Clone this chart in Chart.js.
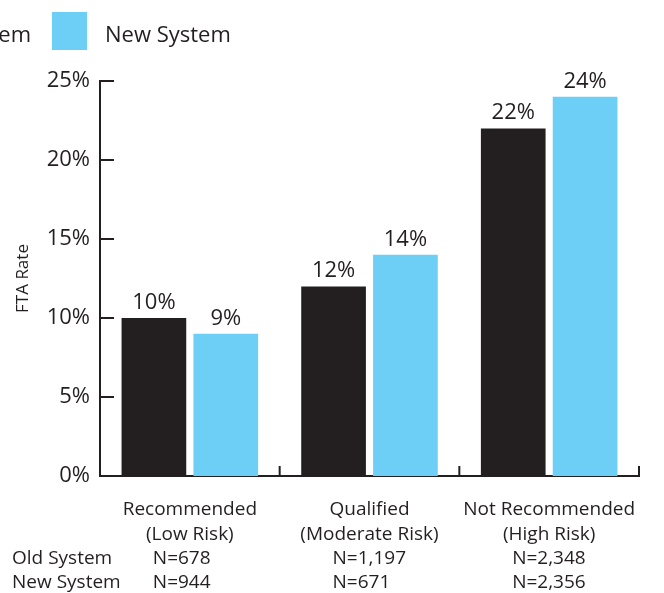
<!DOCTYPE html>
<html>
<head>
<meta charset="utf-8">
<script src="https://cdn.jsdelivr.net/npm/chart.js@4.4.1/dist/chart.umd.min.js"></script>
<style>
  html, body { margin: 0; padding: 0; background: #fff; }
  #wrap { width: 664px; height: 593px; }
</style>
</head>
<body>
<div id="wrap"><canvas id="chart" width="664" height="593"></canvas></div>
<script>
// FTA rate by risk category, old vs new system
const categories = [
    ['Recommended', '(Low Risk)'],
    ['Qualified', '(Moderate Risk)'],
    ['Not Recommended', '(High Risk)']
];
const seriesNames = ['Old System', 'New System'];
const oldRates = [10, 12, 22];
const newRates = [9, 14, 24];
const oldCounts = [678, 1197, 2348];
const newCounts = [944, 671, 2356];
const yTicks = [0, 5, 10, 15, 20, 25];

const INK = '#231f20';
const BLUE = '#6dcff6';
const FONT = "'Open Sans', sans-serif";

function formatCount(n) {
    return 'N=' + n.toLocaleString('en-US');
}

// value labels above each bar
const barLabels = {
    id: 'barLabels',
    afterDatasetsDraw(chart) {
        const ctx = chart.ctx;
        ctx.save();
        ctx.font = `22px ${FONT}`;
        ctx.fillStyle = INK;
        ctx.textAlign = 'center';
        ctx.textBaseline = 'alphabetic';
        chart.data.datasets.forEach((ds, i) => {
            chart.getDatasetMeta(i).data.forEach((bar, j) => {
                ctx.fillText(ds.data[j] + '%', bar.x, bar.y - 9);
            });
        });
        ctx.restore();
    }
};

// inside tick marks, legend, N rows
const decor = {
    id: 'decor',
    afterDraw(chart) {
        const ctx = chart.ctx;
        const x = chart.scales.x;
        const y = chart.scales.y;
        ctx.save();
        ctx.strokeStyle = INK;
        ctx.lineWidth = 2;

        // y ticks point into the plot
        y.ticks.forEach(t => {
            const py = y.getPixelForValue(t.value);
            ctx.beginPath();
            ctx.moveTo(y.right, py);
            ctx.lineTo(y.right + 14, py);
            ctx.stroke();
        });

        // category dividers on the x axis
        const n = categories.length;
        const step = (x.right - x.left) / n;
        for (let i = 1; i <= n; i++) {
            const bx = x.left + i * step;
            ctx.beginPath();
            ctx.moveTo(bx, x.top + 1);
            ctx.lineTo(bx, x.top - 10);
            ctx.stroke();
        }

        // legend (first entry runs off the left edge)
        ctx.font = `22px ${FONT}`;
        ctx.textAlign = 'left';
        ctx.textBaseline = 'alphabetic';
        const colors = [INK, BLUE];
        let boxX = 52;
        for (let i = seriesNames.length - 1; i >= 0; i--) {
            if (i < seriesNames.length - 1) {
                boxX = boxX - 21 - ctx.measureText(seriesNames[i]).width - 18 - 35;
            }
            ctx.fillStyle = colors[i];
            ctx.fillRect(boxX, 12, 35, 38);
            ctx.fillStyle = INK;
            ctx.fillText(seriesNames[i], boxX + 35 + 18, 42);
        }

        // sample size rows
        ctx.font = `19px ${FONT}`;
        ctx.fillStyle = INK;
        const rows = [oldCounts, newCounts];
        rows.forEach((counts, r) => {
            const base = chart.chartArea.bottom + 88 + r * 24;
            ctx.fillText(seriesNames[r], 12, base);
            counts.forEach((c, j) => {
                ctx.fillText(formatCount(c), x.getPixelForValue(j) - 37, base);
            });
        });
        ctx.restore();
    }
};

new Chart(document.getElementById('chart'), {
    type: 'bar',
    data: {
        labels: categories,
        datasets: [
            {
                label: seriesNames[0],
                data: oldRates,
                backgroundColor: INK,
                categoryPercentage: 0.8,
                barPercentage: 0.9
            },
            {
                label: seriesNames[1],
                data: newRates,
                backgroundColor: BLUE,
                categoryPercentage: 0.8,
                barPercentage: 0.9
            }
        ]
    },
    options: {
        responsive: false,
        animation: false,
        layout: { padding: { top: 81, right: 25, bottom: 0, left: 0 } },
        plugins: {
            legend: { display: false },
            tooltip: { enabled: false }
        },
        scales: {
            x: {
                grid: { display: false, drawTicks: false },
                border: { display: true, color: INK, width: 2 },
                ticks: {
                    color: INK,
                    font: { family: FONT, size: 19, lineHeight: 1.27 },
                    padding: 22,
                    maxRotation: 0,
                    autoSkip: false
                },
                afterFit: s => { s.height = 117; }
            },
            y: {
                min: 0,
                max: 25,
                grid: { display: false, drawTicks: false },
                border: { display: true, color: INK, width: 2 },
                afterBuildTicks: s => { s.ticks = yTicks.map(v => ({ value: v })); },
                ticks: {
                    color: INK,
                    font: { family: FONT, size: 22 },
                    padding: 10,
                    callback: v => v + '%'
                },
                title: {
                    display: true,
                    text: 'FTA Rate',
                    color: INK,
                    font: { family: FONT, size: 17 },
                    padding: { top: 13, bottom: 0 }
                },
                afterFit: s => { s.width = 100; }
            }
        }
    },
    plugins: [barLabels, decor]
});
</script>
</body>
</html>
